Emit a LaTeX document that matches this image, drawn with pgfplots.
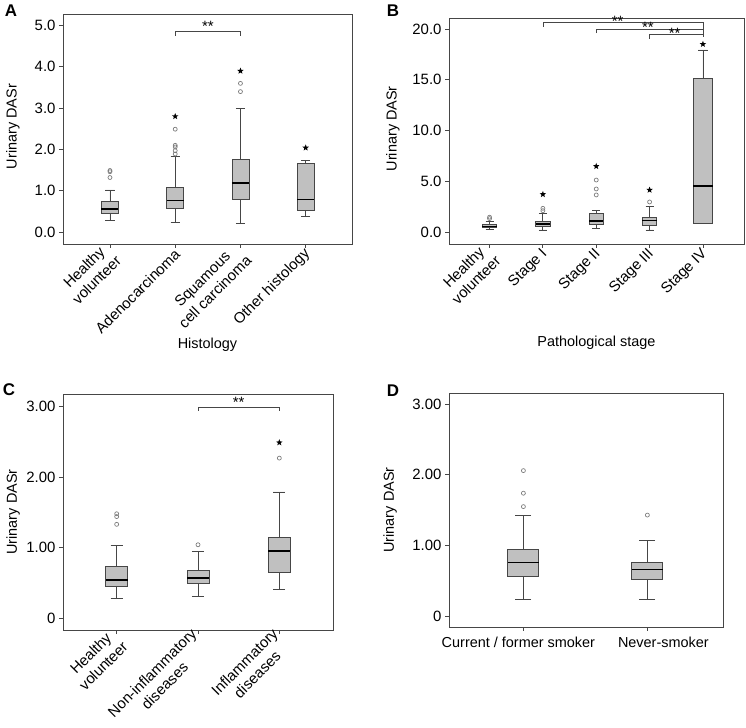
\documentclass[border=0pt]{standalone}
\usepackage{pgfplots}
\pgfplotsset{compat=1.18}
\usepgfplotslibrary{statistics}
\usepackage{fontspec}
\setmainfont{Liberation Sans}

\definecolor{boxfill}{RGB}{192,192,192}
\definecolor{boxline}{RGB}{70,70,70}
\definecolor{outl}{RGB}{125,125,125}

% filled five-pointed star for extreme values
\pgfdeclareplotmark{fstar}{%
  \pgfpathmoveto{\pgfpointpolar{90}{\pgfplotmarksize}}%
  \pgfpathlineto{\pgfpointpolar{126}{0.42\pgfplotmarksize}}%
  \pgfpathlineto{\pgfpointpolar{162}{\pgfplotmarksize}}%
  \pgfpathlineto{\pgfpointpolar{198}{0.42\pgfplotmarksize}}%
  \pgfpathlineto{\pgfpointpolar{234}{\pgfplotmarksize}}%
  \pgfpathlineto{\pgfpointpolar{270}{0.42\pgfplotmarksize}}%
  \pgfpathlineto{\pgfpointpolar{306}{\pgfplotmarksize}}%
  \pgfpathlineto{\pgfpointpolar{342}{0.42\pgfplotmarksize}}%
  \pgfpathlineto{\pgfpointpolar{18}{\pgfplotmarksize}}%
  \pgfpathlineto{\pgfpointpolar{54}{0.42\pgfplotmarksize}}%
  \pgfpathclose
  \pgfusepathqfill}

\tikzset{
  brk/.style={boxline, line width=0.6pt},
  stars/.style={font=\fontsize{15}{15}\selectfont, inner sep=0pt},
}

\pgfplotsset{
  dasr/.style={
    scale only axis,
    axis line style={boxline, line width=0.9pt},
    tick align=outside, tick pos=left,
    major tick length=4bp,
    every tick/.style={boxline, line width=0.8pt},
    ylabel={Urinary DASr},
    label style={font=\fontsize{14.5}{17}\selectfont},
    tick label style={font=\fontsize{15}{18}\selectfont},
    /pgf/number format/assume math mode=true,
    boxplot/draw direction=y,
    clip=false,
  },
  bx/.style={boxplot prepared={#1}, fill=boxfill, draw=boxline, line width=0.8pt,
    mark=o, mark size=2bp, mark options={draw=outl, fill=white, line width=0.7pt},
    boxplot/every median/.style={draw=black, line width=1.7pt}},
  ext/.style={only marks, mark=fstar, mark size=3.4bp, black},
}

\begin{document}
\begin{tikzpicture}
\path[use as bounding box] (0,0) rectangle (746bp,728bp);

% ---------------- A ----------------
\begin{axis}[dasr, at={(63bp,484bp)}, anchor=south west,
  width=289bp, height=230bp,
  xmin=-0.72, xmax=3.71, ymin=-0.29, ymax=5.28,
  xtick={0,1,2,3},
  xticklabels={{Healthy\\volunteer},Adenocarcinoma,{Squamous\\cell carcinoma},Other histology},
  x tick label style={rotate=45, anchor=east, align=center, inner sep=1pt, yshift=-4bp},
  ytick={0,1,2,3,4,5},
  yticklabel style={/pgf/number format/.cd, fixed, fixed zerofill, precision=1},
  xlabel={Histology},
  xlabel style={at={(axis description cs:0.5,-0.437)}, anchor=center},
  ylabel style={at={(axis description cs:-0.173,0.51)}, anchor=center},
  boxplot/box extend=0.26, boxplot/whisker extend=0.14]
\addplot[bx={draw position=0, lower whisker=0.28, lower quartile=0.45, median=0.55, upper quartile=0.73, upper whisker=1.02}]
  coordinates {(0,1.32) (0,1.46) (0,1.49)};
\addplot[bx={draw position=1, lower whisker=0.23, lower quartile=0.57, median=0.76, upper quartile=1.07, upper whisker=1.83}]
  coordinates {(1,1.89) (1,1.97) (1,2.06) (1,2.10) (1,2.49)};
\addplot[bx={draw position=2, lower whisker=0.21, lower quartile=0.78, median=1.19, upper quartile=1.75, upper whisker=2.99}]
  coordinates {(2,3.40) (2,3.60)};
\addplot[bx={draw position=3, lower whisker=0.37, lower quartile=0.53, median=0.79, upper quartile=1.65, upper whisker=1.74}]
  coordinates {};
\addplot[ext] coordinates {(1,2.80) (2,3.90) (3,2.04)};
\draw[brk] (axis cs:1,4.75) -- (axis cs:1,4.87) -- (axis cs:2,4.87) -- (axis cs:2,4.75);
\node[stars] at (axis cs:1.5,4.98) {**};
\end{axis}
\node[font=\bfseries\fontsize{17}{17}\selectfont] at (11bp,717bp) {A};

% ---------------- B ----------------
\begin{axis}[dasr, at={(449bp,484bp)}, anchor=south west,
  width=295bp, height=226bp,
  xmin=-0.76, xmax=4.77, ymin=-1.18, ymax=21.08,
  xtick={0,1,2,3,4},
  xticklabels={{Healthy\\volunteer},Stage I,Stage II,Stage III,Stage IV},
  x tick label style={rotate=45, anchor=east, align=center, inner sep=1pt, yshift=-4bp},
  ytick={0,5,10,15,20},
  yticklabel style={/pgf/number format/.cd, fixed, fixed zerofill, precision=1},
  xlabel={Pathological stage},
  xlabel style={at={(axis description cs:0.5,-0.436)}, anchor=center},
  ylabel style={at={(axis description cs:-0.19,0.51)}, anchor=center},
  boxplot/box extend=0.27, boxplot/whisker extend=0.15]
\addplot[bx={draw position=0, lower whisker=0.28, lower quartile=0.45, median=0.55, upper quartile=0.73, upper whisker=1.02}]
  coordinates {(0,1.32) (0,1.46)};
\addplot[bx={draw position=1, lower whisker=0.20, lower quartile=0.53, median=0.79, upper quartile=1.08, upper whisker=1.84}]
  coordinates {(1,2.10) (1,2.33)};
\addplot[bx={draw position=2, lower whisker=0.36, lower quartile=0.72, median=1.08, upper quartile=1.84, upper whisker=2.13}]
  coordinates {(2,3.65) (2,4.24) (2,5.12)};
\addplot[bx={draw position=3, lower whisker=0.20, lower quartile=0.66, median=1.12, upper quartile=1.45, upper whisker=2.50}]
  coordinates {(3,2.96)};
\addplot[bx={draw position=4, box extend=0.36, whisker extend=0.18, lower whisker=0.80, lower quartile=0.80, median=4.53, upper quartile=15.14, upper whisker=17.93}]
  coordinates {};
\addplot[ext] coordinates {(1,3.71) (2,6.47) (3,4.14) (4,18.50)};
\draw[brk] (axis cs:1,20.23) -- (axis cs:1,20.66) -- (axis cs:4,20.66) -- (axis cs:4,19.24);
\draw[brk] (axis cs:2,19.60) -- (axis cs:2,20.00) -- (axis cs:4,20.00);
\draw[brk] (axis cs:3,19.05) -- (axis cs:3,19.47) -- (axis cs:4,19.47);
\node[stars] at (axis cs:2.4,20.75) {**};
\node[stars] at (axis cs:2.97,20.12) {**};
\node[stars] at (axis cs:3.47,19.55) {**};
\end{axis}
\node[font=\bfseries\fontsize{17}{17}\selectfont] at (393bp,717bp) {B};

% ---------------- C ----------------
\begin{axis}[dasr, at={(63bp,98bp)}, anchor=south west,
  width=270bp, height=236bp,
  xmin=-0.66, xmax=2.66, ymin=-0.17, ymax=3.18,
  xtick={0,1,2},
  xticklabels={{Healthy\\volunteer},{Non-inflammatory\\diseases},{Inflammatory\\diseases}},
  x tick label style={rotate=45, anchor=east, align=center, inner sep=1pt, yshift=-4bp},
  ytick={0,1,2,3}, yticklabels={0,1.00,2.00,3.00},
  ylabel style={at={(axis description cs:-0.185,0.5)}, anchor=center},
  boxplot/box extend=0.27, boxplot/whisker extend=0.15]
\addplot[bx={draw position=0, lower whisker=0.28, lower quartile=0.45, median=0.54, upper quartile=0.73, upper whisker=1.03}]
  coordinates {(0,1.33) (0,1.44) (0,1.48)};
\addplot[bx={draw position=1, lower whisker=0.30, lower quartile=0.49, median=0.57, upper quartile=0.68, upper whisker=0.94}]
  coordinates {(1,1.04)};
\addplot[bx={draw position=2, lower whisker=0.40, lower quartile=0.65, median=0.95, upper quartile=1.15, upper whisker=1.79}]
  coordinates {(2,2.27)};
\addplot[ext] coordinates {(2,2.49)};
\draw[brk] (axis cs:1,2.94) -- (axis cs:1,2.99) -- (axis cs:2,2.99) -- (axis cs:2,2.94);
\node[stars] at (axis cs:1.5,3.06) {**};
\end{axis}
\node[font=\bfseries\fontsize{17}{17}\selectfont] at (9bp,338bp) {C};

% ---------------- D ----------------
\begin{axis}[dasr, at={(449bp,101bp)}, anchor=south west,
  width=274bp, height=234bp,
  xmin=-0.60, xmax=1.61, ymin=-0.156, ymax=3.16,
  xtick={0,1},
  xticklabels={Current / former smoker\hspace*{10bp},\hspace*{32bp}Never-smoker},
  x tick label style={font=\fontsize{14.5}{17}\selectfont, yshift=-3bp},
  ytick={0,1,2,3}, yticklabels={0,1.00,2.00,3.00},
  ylabel style={at={(axis description cs:-0.215,0.5)}, anchor=center},
  boxplot/box extend=0.25, boxplot/whisker extend=0.13]
\addplot[bx={draw position=0, lower whisker=0.24, lower quartile=0.56, median=0.76, upper quartile=0.95, upper whisker=1.42}]
  coordinates {(0,1.55) (0,1.74) (0,2.06)};
\addplot[bx={draw position=1, lower whisker=0.23, lower quartile=0.52, median=0.66, upper quartile=0.76, upper whisker=1.07}]
  coordinates {(1,1.43)};
\end{axis}
\node[font=\bfseries\fontsize{17}{17}\selectfont] at (393bp,337bp) {D};
\end{tikzpicture}
\end{document}
